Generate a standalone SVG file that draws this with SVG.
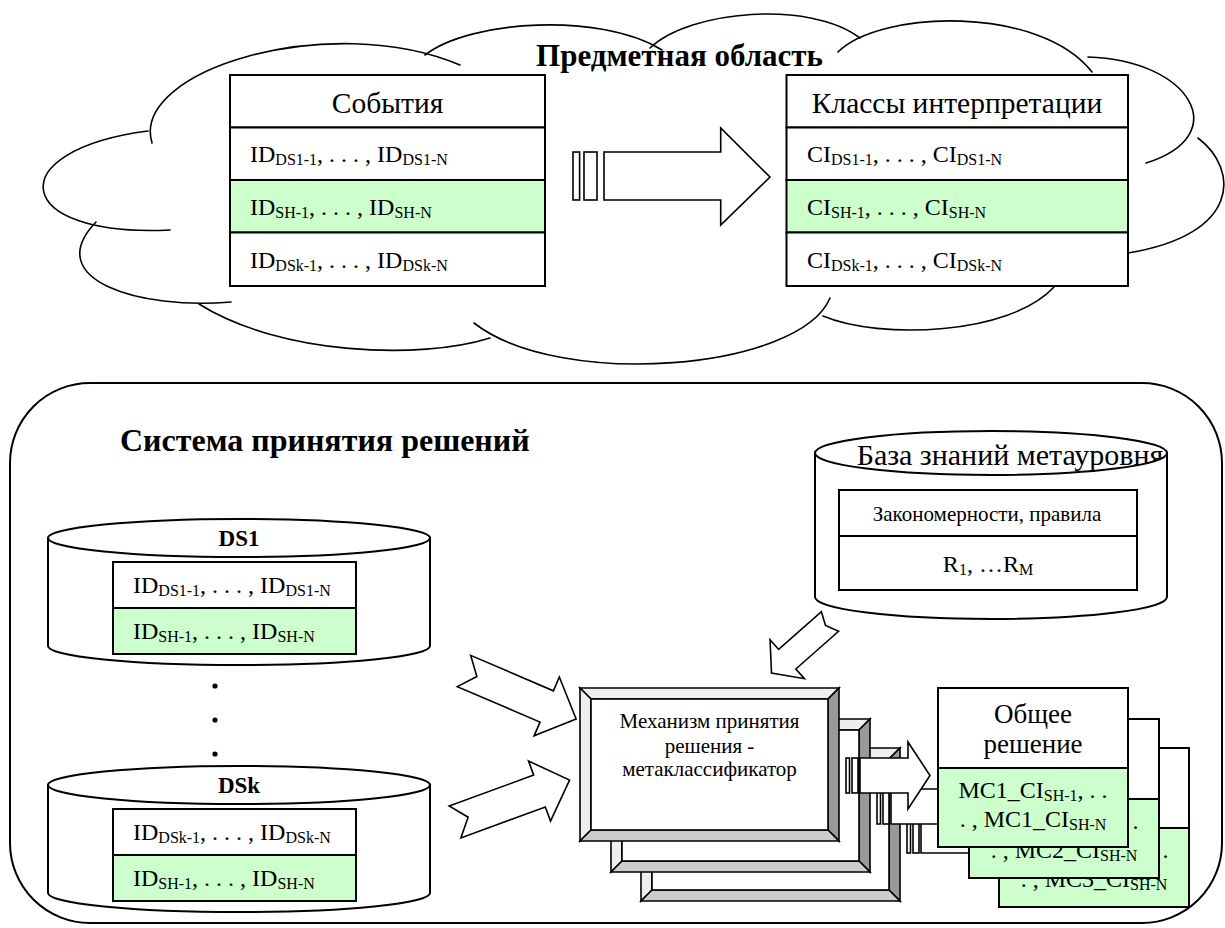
<svg xmlns="http://www.w3.org/2000/svg" xmlns:xlink="http://www.w3.org/1999/xlink" width="1225" height="928" viewBox="0 0 1225 928">
  <style>
    .ln { fill: #ffffff; stroke: #000000; stroke-width: 2; }
    .gr { fill: #ccffcc; }
    .cl { fill: none; stroke: #000000; stroke-width: 1.6; stroke-linecap: round; }
    .bv { stroke: #000000; stroke-width: 1.6; stroke-linejoin: miter; }
    .t { font-family: "Liberation Serif", "Times New Roman", serif; fill: #000000; }
    .f32 { font-size: 32px; }
    .f31 { font-size: 31px; }
    .f30 { font-size: 30px; }
    .f29 { font-size: 29.5px; }
    .f27 { font-size: 27px; }
    .f24 { font-size: 24px; }
    .f23 { font-size: 23px; }
    .f21 { font-size: 21px; }
    .sub { font-size: 16px; }
    .b { font-weight: bold; }
    .mid { text-anchor: middle; }
  </style>
  <defs>
    <!-- bevelled frame of the decision mechanism -->
    <g id="bevel">
      <polygon class="bv" points="0,0 259,0 248,11 11,11" fill="#eeeeee"/>
      <polygon class="bv" points="0,0 11,11 11,142 0,153" fill="#eeeeee"/>
      <polygon class="bv" points="259,0 259,153 248,142 248,11" fill="#999999"/>
      <polygon class="bv" points="0,153 11,142 248,142 259,153" fill="#cccccc"/>
      <rect class="bv" x="11" y="11" width="237" height="131" fill="#ffffff"/>
    </g>
    <!-- striped block arrow from mechanism to result -->
    <g id="flow">
      <rect class="bv" x="266" y="70" width="3.5" height="35" fill="#ffffff"/>
      <rect class="bv" x="272" y="70" width="6" height="35" fill="#ffffff"/>
      <polygon class="bv" points="280,70 328,70 328,54 350,87.5 328,121 328,105 280,105" fill="#ffffff"/>
    </g>
    <!-- notched block arrow, tail at origin, pointing along +x -->
    <polygon id="notched" points="0,-17 90,-17 90,-32 122,0 90,32 90,17 0,17 14,0"/>
    <clipPath id="kbTop">
      <ellipse cx="991" cy="453" rx="176" ry="22"/>
    </clipPath>
  </defs>

  <!-- subject domain cloud -->
  <g id="cloud">
    <path class="cl" d="M152,143 C130,70 330,10 460,65"/>
    <path class="cl" d="M425,55 C470,20 600,12 662,50"/>
    <path class="cl" d="M650,48 C690,10 810,0 860,38"/>
    <path class="cl" d="M838,52 C880,10 1040,5 1092,72"/>
    <path class="cl" d="M1088,57 C1190,60 1235,135 1146,163"/>
    <path class="cl" d="M1198,138 C1240,170 1240,235 1128,253"/>
    <path class="cl" d="M1054,287 C1010,335 880,340 823,316"/>
    <path class="cl" d="M830,298 C800,370 560,390 474,323"/>
    <path class="cl" d="M490,338 C420,360 280,355 199,304"/>
    <path class="cl" d="M231,302 C140,310 40,280 96,222"/>
    <path class="cl" d="M170,230 C10,238 0,150 148,131"/>
    <text class="t f31 b mid" x="679.5" y="66">Предметная область</text>
  </g>

  <!-- events table -->
  <g id="events">
    <rect class="ln" x="230" y="75" width="315" height="52.5"/>
    <rect class="ln" x="230" y="127.5" width="315" height="52.5"/>
    <rect class="ln gr" x="230" y="180" width="315" height="52.5"/>
    <rect class="ln" x="230" y="232.5" width="315" height="53.5"/>
    <text class="t f29 mid" x="387.5" y="113">События</text>
    <text class="t f24" x="250" y="162">ID<tspan class="sub" dy="3">DS1-1</tspan><tspan dy="-3">, . . . , ID</tspan><tspan class="sub" dy="3">DS1-N</tspan></text>
    <text class="t f24" x="250" y="215">ID<tspan class="sub" dy="3">SH-1</tspan><tspan dy="-3">, . . . , ID</tspan><tspan class="sub" dy="3">SH-N</tspan></text>
    <text class="t f24" x="250" y="268">ID<tspan class="sub" dy="3">DSk-1</tspan><tspan dy="-3">, . . . , ID</tspan><tspan class="sub" dy="3">DSk-N</tspan></text>
  </g>

  <!-- interpretation classes table -->
  <g id="classes">
    <rect class="ln" x="786.5" y="75" width="341.5" height="52.5"/>
    <rect class="ln" x="786.5" y="127.5" width="341.5" height="52.5"/>
    <rect class="ln gr" x="786.5" y="180" width="341.5" height="52.5"/>
    <rect class="ln" x="786.5" y="232.5" width="341.5" height="53.5"/>
    <text class="t f29 mid" x="957" y="113">Классы интерпретации</text>
    <text class="t f24" x="807" y="162">CI<tspan class="sub" dy="3">DS1-1</tspan><tspan dy="-3">, . . . , CI</tspan><tspan class="sub" dy="3">DS1-N</tspan></text>
    <text class="t f24" x="807" y="215">CI<tspan class="sub" dy="3">SH-1</tspan><tspan dy="-3">, . . . , CI</tspan><tspan class="sub" dy="3">SH-N</tspan></text>
    <text class="t f24" x="807" y="268">CI<tspan class="sub" dy="3">DSk-1</tspan><tspan dy="-3">, . . . , CI</tspan><tspan class="sub" dy="3">DSk-N</tspan></text>
  </g>

  <!-- decision system frame -->
  <g id="decision-system">
    <rect class="ln" x="10" y="383" width="1212" height="540" rx="80" ry="80"/>
    <text class="t f32 b" x="120" y="451">Система принятия решений</text>
  </g>

  <!-- data source DS1 -->
  <g id="ds1">
    <path class="ln" d="M48,538 A191,19 0 0 1 430,538 L430,646 A191,19 0 0 1 48,646 Z"/>
    <path class="cl" style="stroke-width:2" d="M48,538 A191,19 0 0 0 430,538"/>
    <text class="t f23 b mid" x="239" y="546">DS1</text>
    <rect class="ln" x="113" y="562" width="243" height="46"/>
    <rect class="ln gr" x="113" y="608" width="243" height="46"/>
    <text class="t f24" x="133" y="593">ID<tspan class="sub" dy="3">DS1-1</tspan><tspan dy="-3">, . . . , ID</tspan><tspan class="sub" dy="3">DS1-N</tspan></text>
    <text class="t f24" x="133" y="639">ID<tspan class="sub" dy="3">SH-1</tspan><tspan dy="-3">, . . . , ID</tspan><tspan class="sub" dy="3">SH-N</tspan></text>
  </g>

  <!-- ellipsis between data sources -->
  <g id="ellipsis">
    <circle cx="215" cy="686" r="2.6"/>
    <circle cx="215" cy="720" r="2.6"/>
    <circle cx="215" cy="754" r="2.6"/>
  </g>

  <!-- data source DSk -->
  <g id="dsk">
    <path class="ln" d="M48,785 A191,19 0 0 1 430,785 L430,893 A191,19 0 0 1 48,893 Z"/>
    <path class="cl" style="stroke-width:2" d="M48,785 A191,19 0 0 0 430,785"/>
    <text class="t f23 b mid" x="239" y="793">DSk</text>
    <rect class="ln" x="113" y="809" width="243" height="46"/>
    <rect class="ln gr" x="113" y="855" width="243" height="46"/>
    <text class="t f24" x="133" y="840">ID<tspan class="sub" dy="3">DSk-1</tspan><tspan dy="-3">, . . . , ID</tspan><tspan class="sub" dy="3">DSk-N</tspan></text>
    <text class="t f24" x="133" y="886">ID<tspan class="sub" dy="3">SH-1</tspan><tspan dy="-3">, . . . , ID</tspan><tspan class="sub" dy="3">SH-N</tspan></text>
  </g>

  <!-- meta-level knowledge base -->
  <g id="knowledge-base">
    <path class="ln" d="M815,453 A176,22 0 0 1 1167,453 L1167,597 A176,22 0 0 1 815,597 Z"/>
    <path class="cl" style="stroke-width:2" d="M815,453 A176,22 0 0 0 1167,453"/>
    <text class="t f30 mid" x="1010" y="465" clip-path="url(#kbTop)">База знаний метауровня</text>
    <rect class="ln" x="839" y="490" width="298" height="46"/>
    <rect class="ln" x="839" y="536" width="298" height="54"/>
    <text class="t f21 mid" x="987" y="521">Закономерности, правила</text>
    <text class="t f24 mid" x="988" y="572">R<tspan class="sub" dy="3">1</tspan><tspan dy="-3">, …R</tspan><tspan class="sub" dy="3">M</tspan></text>
  </g>

  <!-- connectors -->
  <g id="connectors" fill="#ffffff" stroke="#000000" stroke-width="1.6">
    <!-- events to classes -->
    <rect x="573" y="152" width="6.6" height="48"/>
    <rect x="584" y="152" width="13" height="48"/>
    <polygon points="604,152 720.7,152 720.7,128 770,177 720.7,225 720.7,200 604,200"/>
    <!-- data sources to mechanism -->
    <use xlink:href="#notched" href="#notched" transform="translate(464,671) rotate(23.2)"/>
    <use xlink:href="#notched" href="#notched" transform="translate(455,822) rotate(-20.1)"/>
    <!-- knowledge base to mechanism -->
    <polygon transform="translate(830,621.5) rotate(138.6)" points="0,-13 57,-13 57,-26 78,0 57,26 57,13 0,13 6,0"/>
  </g>

  <!-- stacked decision units: mechanism, arrow, result -->
  <g id="unit-3" transform="translate(641,748)">
    <use xlink:href="#bevel" href="#bevel"/>
    <use xlink:href="#flow" href="#flow"/>
    <rect class="ln" x="358" y="0" width="190" height="80"/>
    <rect class="ln gr" x="358" y="80" width="190" height="79"/>
    <text class="t f24 mid" x="453" y="110">MC3_CI<tspan class="sub" dy="3">SH-1</tspan><tspan dy="-3">, . .</tspan></text>
    <text class="t f24 mid" x="453" y="139">. , MC3_CI<tspan class="sub" dy="3">SH-N</tspan></text>
  </g>
  <g id="unit-2" transform="translate(611,719)">
    <use xlink:href="#bevel" href="#bevel"/>
    <use xlink:href="#flow" href="#flow"/>
    <rect class="ln" x="358" y="0" width="190" height="80"/>
    <rect class="ln gr" x="358" y="80" width="190" height="79"/>
    <text class="t f24 mid" x="453" y="110">MC2_CI<tspan class="sub" dy="3">SH-1</tspan><tspan dy="-3">, . .</tspan></text>
    <text class="t f24 mid" x="453" y="139">. , MC2_CI<tspan class="sub" dy="3">SH-N</tspan></text>
  </g>
  <g id="unit-1" transform="translate(580,688)">
    <use xlink:href="#bevel" href="#bevel"/>
    <text class="t f21 mid" x="129.5" y="40">Механизм принятия</text>
    <text class="t f21 mid" x="129.5" y="65">решения -</text>
    <text class="t f21 mid" x="129.5" y="88">метаклассификатор</text>
    <use xlink:href="#flow" href="#flow"/>
    <rect class="ln" x="358" y="0" width="190" height="80"/>
    <rect class="ln gr" x="358" y="80" width="190" height="79"/>
    <text class="t f27 mid" x="453" y="35">Общее</text>
    <text class="t f27 mid" x="453" y="65">решение</text>
    <text class="t f24 mid" x="453" y="110">MC1_CI<tspan class="sub" dy="3">SH-1</tspan><tspan dy="-3">, . .</tspan></text>
    <text class="t f24 mid" x="453" y="139">. , MC1_CI<tspan class="sub" dy="3">SH-N</tspan></text>
  </g>
</svg>
